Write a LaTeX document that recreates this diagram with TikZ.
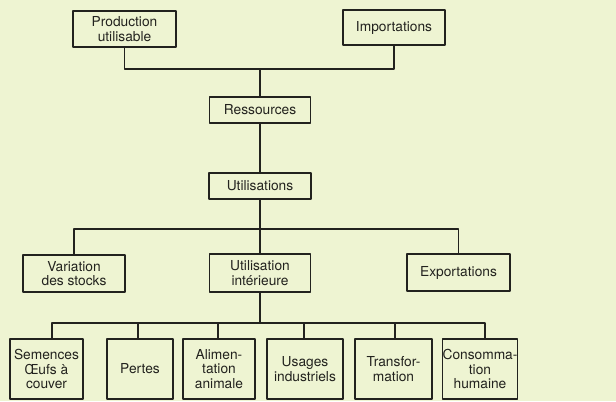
\documentclass[tikz,border=0pt]{standalone}
\usepackage{fontspec}
\setmainfont{TeX Gyre Heros}
\usepackage{tikz}
\usetikzlibrary{arrows.meta}
\usetikzlibrary{shapes}
\definecolor{paper}{RGB}{238,244,210}
\definecolor{ink}{RGB}{34,34,30}
\tikzset{box/.style={draw=ink,line width=1.1bp,inner sep=0pt,align=center,text=ink,
  font=\fontsize{13.8}{14.5}\selectfont}}

\begin{document}
\begin{tikzpicture}[x=1bp,y=-1bp,line join=bevel,ink,line width=1.1bp]
%%
\fill[paper] (0,0) rectangle (616,401);
\useasboundingbox (0,0) rectangle (616,401);
\node (node_prod) at (124.5,29) [box,minimum width=103bp,minimum height=36bp] {Production\\utilisable};
  \node (node_imp) at (394,27.5) [box,minimum width=102bp,minimum height=35bp] {Importations};
  \node (node_res) at (260,110) [box,minimum width=101bp,minimum height=26bp] {Ressources};
  \node (node_util) at (260,186) [box,minimum width=102bp,minimum height=26bp] {Utilisations};
  \node (node_var) at (74,273.5) [box,minimum width=102bp,minimum height=37bp] {Variation\\des stocks};
  \node (node_int) at (260,273) [box,minimum width=101bp,minimum height=38bp] {Utilisation\\intérieure};
  \node (node_exp) at (458.5,272.5) [box,minimum width=103bp,minimum height=37bp] {Exportations};
  \node (node_sem) at (46.5,369) [box,minimum width=73bp,minimum height=60bp] {Semences\\Œufs à\\couver};
  \node (node_pert) at (140,369) [box,minimum width=66bp,minimum height=60bp] {Pertes};
  \node (node_alim) at (219,369) [box,minimum width=72bp,minimum height=60bp] {Alimen-\\tation\\animale};
  \node (node_usag) at (305,369) [box,minimum width=76bp,minimum height=60bp] {Usages\\industriels};
  \node (node_tran) at (393.5,369) [box,minimum width=77bp,minimum height=60bp] {Transfor-\\mation};
  \node (node_cons) at (480,369) [box,minimum width=74bp,minimum height=60bp] {Consomma-\\tion\\humaine};
  \coordinate (bus_res) at (260,69);
  \coordinate (bus_util) at (260,229);
  \coordinate (bus_int) at (260,323);
  \draw (node_prod.south) |- (bus_res);
  \draw (node_imp.south) |- (bus_res);
  \draw (bus_res) -- (node_res.north);
  \draw (node_res.south) -- (node_util.north);
  \draw (node_util.south) -- (node_int.north);
  \draw (node_var.north) |- (bus_util);
  \draw (node_exp.north) |- (bus_util);
  \draw (node_int.south) -- (bus_int);
  \foreach \n/\dx in {sem/5.5,pert/-2,alim/-1,usag/-1,tran/1.5,cons/5}
    \draw ([xshift=\dx bp]node_\n.north) |- (bus_int);
%
\end{tikzpicture}
\end{document}
